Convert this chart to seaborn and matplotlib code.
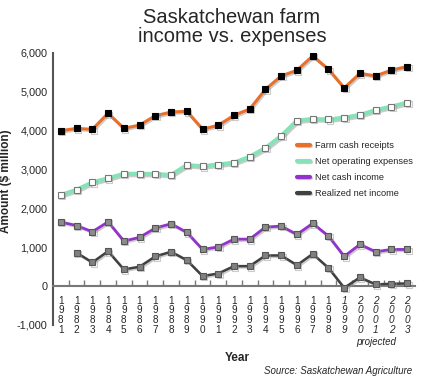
import numpy as np
import pandas as pd
import matplotlib
matplotlib.use("Agg")
import matplotlib.pyplot as plt
import matplotlib.patheffects as pe
import seaborn as sns

# Data ($ million)
years = list(range(1981, 2004))
farm_cash_receipts = [4000, 4060, 4035, 4450, 4060, 4145, 4385, 4480, 4500, 4040,
                      4140, 4395, 4560, 5065, 5410, 5555, 5925, 5580, 5100, 5475,
                      5410, 5560, 5650]
net_operating_expenses = [2345, 2480, 2670, 2775, 2890, 2890, 2885, 2860, 3115, 3085,
                          3130, 3175, 3330, 3555, 3865, 4260, 4300, 4290, 4335, 4405,
                          4530, 4620, 4720]
net_cash_income = [1650, 1560, 1400, 1655, 1160, 1255, 1495, 1605, 1385, 945,
                   1010, 1210, 1210, 1520, 1545, 1330, 1615, 1290, 765, 1075,
                   885, 945, 945]
realized_net_income = [np.nan, 860, 610, 900, 430, 500, 765, 885, 670, 260,
                       325, 515, 515, 790, 790, 540, 830, 470, -45, 225,
                       45, 60, 70]
projected_from = 1999

df = pd.DataFrame({
    "Year": years,
    "Farm cash receipts": farm_cash_receipts,
    "Net operating expenses": net_operating_expenses,
    "Net cash income": net_cash_income,
    "Realized net income": realized_net_income,
})

sns.set_style("white")
plt.rcParams["font.family"] = ["Liberation Sans", "DejaVu Sans"]

fig = plt.figure(figsize=(4.33, 3.77), dpi=100)
ax = fig.add_axes([53 / 433, 1 - 325 / 377, (415 - 53) / 433, (325 - 53) / 377])

shadow = [pe.SimpleLineShadow(offset=(1, -1), shadow_color="#999999", alpha=0.5), pe.Normal()]

styles = {
    "Farm cash receipts": dict(color="#e8702a", mfc="black", mec="black"),
    "Net operating expenses": dict(color="#86e3b8", mfc="white", mec="#777777"),
    "Net cash income": dict(color="#9433cc", mfc="#8c8c8c", mec="#555555"),
    "Realized net income": dict(color="#404040", mfc="#808080", mec="#555555"),
}
widths = {"Farm cash receipts": 2.2, "Net operating expenses": 3.0,
          "Net cash income": 2.0, "Realized net income": 1.8}

for name, st in styles.items():
    sns.lineplot(data=df, x="Year", y=name, ax=ax, color=st["color"],
                 lw=widths[name], marker="s", markersize=4.3,
                 markerfacecolor=st["mfc"], markeredgecolor=st["mec"],
                 markeredgewidth=0.8, path_effects=shadow, label=name,
                 legend=False, zorder=3)

ax.set_xlim(1980.5, 2003.5)
ax.set_ylim(-1000, 6000)

# spines first: set_position resets the ticks
for s in ["top", "right"]:
    ax.spines[s].set_visible(False)
ax.spines["left"].set_color("#555555")
ax.spines["left"].set_linewidth(1.5)
ax.spines["bottom"].set_position(("data", 0))
ax.spines["bottom"].set_color("#777777")
ax.spines["bottom"].set_linewidth(1.5)
ax.grid(False)

ax.tick_params(axis="y", direction="in", length=6, width=1.2, color="#555555", pad=4)
ax.tick_params(axis="x", which="major", length=0, pad=7)
ax.tick_params(axis="x", which="minor", direction="in", length=4, width=1.0,
               color="#777777", bottom=True)

ax.set_yticks(range(-1000, 6001, 1000))
ax.set_yticklabels([f"{v:,}" for v in range(-1000, 6001, 1000)], fontsize=7.8)

ax.set_xticks(years)
ax.set_xticklabels(["\n".join(str(y)) for y in years], fontsize=7.2, linespacing=0.95)
for lbl, y in zip(ax.get_xticklabels(), years):
    if y >= projected_from:
        lbl.set_fontstyle("italic")
ax.set_xticks([y + 0.5 for y in years[:-1]], minor=True)

ax.set_xlabel("")
ax.set_ylabel("Amount ($ million)", fontsize=8.5, fontweight="bold", labelpad=4)
ax.yaxis.set_label_coords(12 / 433, 1 - 181 / 377, transform=fig.transFigure)

ax.legend(loc="upper left", bbox_to_anchor=(297 / 433, 1 - 141 / 377),
          bbox_transform=fig.transFigure, frameon=False, fontsize=6.7,
          handlelength=1.4, handletextpad=0.5, labelspacing=0.75,
          borderaxespad=0, borderpad=0)
for h in ax.get_legend().get_lines():
    h.set_marker("")
    h.set_linewidth(3)

fig.text(232 / 433, 1 - 27 / 377, "Saskatchewan farm\nincome vs. expenses",
         ha="center", va="center", fontsize=14.5, linespacing=1.05)
fig.text(237 / 433, 1 - 358 / 377, "Year", ha="center", va="center",
         fontsize=8.5, fontweight="bold")
fig.text(376 / 433, 1 - 342 / 377, "projected", ha="center", va="center",
         fontsize=7, fontstyle="italic")
fig.text(412 / 433, 1 - 371 / 377, "Source: Saskatchewan Agriculture",
         ha="right", va="center", fontsize=7, fontstyle="italic")

fig.savefig("out.png", dpi=100)
